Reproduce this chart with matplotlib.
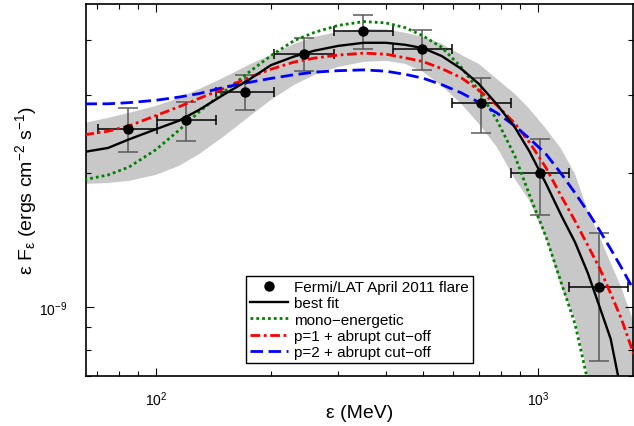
import matplotlib
matplotlib.use("Agg")
import matplotlib.pyplot as plt
import numpy as np
from matplotlib.ticker import NullFormatter

plt.rcParams['font.family'] = ['Liberation Sans', 'DejaVu Sans']
plt.rcParams['mathtext.fontset'] = 'custom'
plt.rcParams['mathtext.rm'] = 'Liberation Sans'
plt.rcParams['mathtext.it'] = 'Liberation Sans:italic'
plt.rcParams['mathtext.bf'] = 'Liberation Sans:bold'

# Fermi/LAT April 2011 flare points (MeV, erg cm^-2 s^-1)
e_pts = [84.3, 119.8, 171, 244.5, 348.9, 497.8, 708, 1011, 1446]
e_lo = [70.7, 100.8, 143.5, 204, 292.6, 416.6, 594, 848, 1208]
e_hi = [100.8, 143.5, 204, 292.6, 416.6, 594, 848, 1208, 1724]
f_pts = [2.52e-9, 2.63e-9, 3.05e-9, 3.71e-9, 4.19e-9, 3.81e-9, 2.88e-9, 2.00e-9, 1.11e-9]
f_hi = [2.80e-9, 2.89e-9, 3.32e-9, 4.03e-9, 4.55e-9, 4.21e-9, 3.28e-9, 2.39e-9, 1.47e-9]
f_lo = [2.23e-9, 2.37e-9, 2.78e-9, 3.39e-9, 3.81e-9, 3.42e-9, 2.47e-9, 1.61e-9, 0.757e-9]

# model curves, values in units of 1e-9
e_grid = [65, 75, 85, 100, 115, 130, 150, 175, 200, 230, 260, 300, 350, 400, 450,
          500, 560, 630, 700, 780, 870, 950, 1050, 1150, 1250, 1350, 1450, 1550, 1650, 1780]
best_fit = [2.234, 2.281, 2.384, 2.513, 2.627, 2.781, 3.002, 3.246, 3.503, 3.664, 3.776,
            3.871, 3.934, 3.934, 3.892, 3.826, 3.672, 3.436, 3.179, 2.861, 2.538, 2.239,
            1.894, 1.609, 1.399, 1.193, 1.000, 0.847, 0.647, 0.48]
band_hi = [2.597, 2.665, 2.735, 2.836, 2.956, 3.097, 3.280, 3.508, 3.694, 3.911, 4.057,
           4.163, 4.228, 4.217, 4.141, 4.057, 3.911, 3.694, 3.526, 3.262, 3.017, 2.793,
           2.517, 2.269, 1.993, 1.645, 1.438, 1.256, 1.109, 0.925]
band_lo = [1.892, 1.902, 1.922, 1.983, 2.078, 2.211, 2.415, 2.679, 2.925, 3.162, 3.331,
           3.471, 3.563, 3.582, 3.526, 3.383, 3.146, 2.866, 2.584, 2.293, 1.942, 1.733,
           1.423, 1.109, 0.940, 0.699, 0.531, 0.45, 0.40, 0.35]
mono = [1.934, 1.983, 2.065, 2.260, 2.501, 2.754, 3.038, 3.375, 3.679, 3.979, 4.152,
        4.305, 4.391, 4.361, 4.253, 4.078, 3.841, 3.464, 3.070, 2.638, 2.188, 1.788,
        1.438, 1.135, 0.916, 0.681, 0.531, 0.42, 0.35, 0.28]
p1_cut = [2.442, 2.488, 2.556, 2.697, 2.824, 2.950, 3.099, 3.286, 3.429, 3.560, 3.634,
          3.691, 3.728, 3.708, 3.637, 3.569, 3.440, 3.281, 3.078, 2.847, 2.589, 2.349,
          2.056, 1.777, 1.562, 1.376, 1.222, 1.072, 0.944, 0.784]
p2_cut = [2.866, 2.867, 2.884, 2.920, 2.969, 3.024, 3.120, 3.203, 3.270, 3.334, 3.378,
          3.404, 3.418, 3.395, 3.339, 3.274, 3.166, 3.034, 2.889, 2.735, 2.556, 2.395,
          2.208, 1.996, 1.806, 1.639, 1.487, 1.350, 1.230, 1.093]

e = np.array(e_grid)
sc = 1e-9

fig = plt.figure(figsize=(6.34, 4.27), dpi=100)
ax = fig.add_axes([0.1356, 0.1171, 0.8634, 0.8712])

ax.fill_between(e, np.array(band_lo) * sc, np.array(band_hi) * sc,
                color='#c8c8c8', lw=0, zorder=1)

ex = np.array(e_pts)
fy = np.array(f_pts)
ax.errorbar(ex, fy, yerr=[fy - np.array(f_lo), np.array(f_hi) - fy], fmt='none',
            ecolor='#5a5a5a', elinewidth=1.1, capsize=7.5, capthick=1.1, zorder=3)
ax.errorbar(ex, fy, xerr=[ex - np.array(e_lo), np.array(e_hi) - ex], fmt='none',
            ecolor='black', elinewidth=1.1, capsize=3.3, capthick=1.1, zorder=3)

ax.plot(e, np.array(best_fit) * sc, color='black', lw=1.7, zorder=5, label='best fit')
ax.plot(e, np.array(mono) * sc, color='#008000', lw=2.0, ls=(0, (1, 1.1)), zorder=4,
        label='mono\u2212energetic')
ax.plot(e, np.array(p1_cut) * sc, color='#ff0000', lw=2.0, ls=(0, (3.5, 1.3, 1, 1.3)),
        zorder=4, label='p=1 + abrupt cut\u2212off')
ax.plot(e, np.array(p2_cut) * sc, color='#0000ff', lw=2.0, ls=(0, (4.5, 2)), zorder=4,
        label='p=2 + abrupt cut\u2212off')
pts, = ax.plot(ex, fy, 'o', color='black', ms=6.5, zorder=6,
               label='Fermi/LAT April 2011 flare')

ax.set_xscale('log')
ax.set_yscale('log')
ax.set_xlim(65.6, 1777)
ax.set_ylim(6.99e-10, 4.81e-9)
ax.yaxis.set_minor_formatter(NullFormatter())
ax.xaxis.set_minor_formatter(NullFormatter())
ax.tick_params(which='both', direction='in', top=True, right=True, labelsize=10)
ax.tick_params(which='major', length=6, width=0.8)
ax.tick_params(which='minor', length=3.5, width=0.8)
ax.tick_params(axis='x', which='major', pad=10)
ax.tick_params(axis='y', which='major', pad=13.5)
for s in ax.spines.values():
    s.set_linewidth(1.2)

ax.set_xlabel('\u03b5 (MeV)', fontsize=14, labelpad=-3)
ax.set_ylabel(r'$\mathrm{\varepsilon\ F_{\varepsilon}\ (ergs\ cm^{-2}\ s^{-1})}$',
              fontsize=14, labelpad=0)

handles, labels = ax.get_legend_handles_labels()
order = [4, 0, 1, 2, 3]
leg = ax.legend([handles[i] for i in order], [labels[i] for i in order],
                loc='lower center', bbox_to_anchor=(0.5, 0.035), fontsize=11,
                fancybox=False, framealpha=1, edgecolor='black', handlelength=2.5,
                handletextpad=0.4, labelspacing=0.15, borderpad=0.25, borderaxespad=0)
leg.get_frame().set_linewidth(1.0)

fig.savefig('out.png', dpi=100)
